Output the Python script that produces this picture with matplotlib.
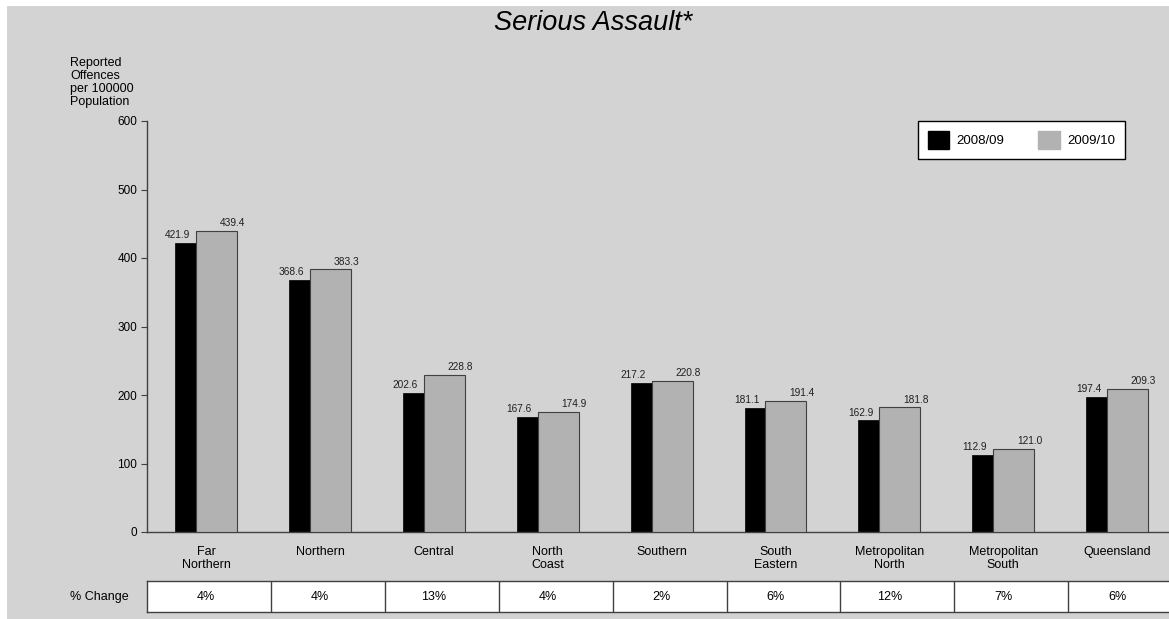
#!/usr/bin/env python3
import matplotlib
matplotlib.use("Agg")
import matplotlib.pyplot as plt
from matplotlib.patches import Rectangle, Patch

# Data
regions = ["Far\nNorthern", "Northern", "Central", "North\nCoast", "Southern",
           "South\nEastern", "Metropolitan\nNorth", "Metropolitan\nSouth", "Queensland"]
rate_2008 = [421.9, 368.6, 202.6, 167.6, 217.2, 181.1, 162.9, 112.9, 197.4]
rate_2009 = [439.4, 383.3, 228.8, 174.9, 220.8, 191.4, 181.8, 121.0, 209.3]
pct_change = ["4%", "4%", "13%", "4%", "2%", "6%", "12%", "7%", "6%"]
series_names = ["2008/09", "2009/10"]
y_ticks = [0, 100, 200, 300, 400, 500, 600]

BG = "#d3d3d3"
GREY = "#b2b2b2"
EDGE = "#404040"
W, H = 1169, 619

plt.rcParams['font.family'] = ['Liberation Sans', 'DejaVu Sans']

fig = plt.figure(figsize=(W / 100, H / 100), dpi=100, facecolor="white")
fig.add_artist(Rectangle((7 / W, 0), 1 - 7 / W, 613 / H, transform=fig.transFigure,
                         facecolor=BG, edgecolor="none", zorder=-10))

# main axes (right edge runs slightly past the figure, like the original)
left, right = 147, 1174
ax = fig.add_axes([left / W, (H - 532) / H, (right - left) / W, 411 / H])
ax.patch.set_visible(False)

x = list(range(len(regions)))
bw = 0.36
off = 0.092
x_a = [i - off for i in x]
x_b = [i + off for i in x]
ax.bar(x_a, rate_2008, width=bw, color="black", edgecolor="black", linewidth=0.5, zorder=2)
ax.bar(x_b, rate_2009, width=bw, color=GREY, edgecolor=EDGE, linewidth=0.8, zorder=3)

for i in x:
    ax.annotate(f"{rate_2008[i]:.1f}", (i - 0.25, rate_2008[i]), xytext=(0, 2),
                textcoords="offset points", ha="center", va="bottom", fontsize=7.3,
                color="#202020")
    ax.annotate(f"{rate_2009[i]:.1f}", (i + 0.23, rate_2009[i]), xytext=(0, 2),
                textcoords="offset points", ha="center", va="bottom", fontsize=7.3,
                color="#202020")

ax.set_xlim(-0.52, 8.5)
ax.set_ylim(0, 600)
ax.set_yticks(y_ticks)
ax.set_xticks(x)
ax.set_xticklabels(regions, fontsize=9, linespacing=1.15)
ax.tick_params(axis="x", length=0, pad=10)
ax.tick_params(axis="y", length=4, width=0.8, color=EDGE, labelsize=8.5, pad=3)
for s in ["top", "right"]:
    ax.spines[s].set_visible(False)
for s in ["left", "bottom"]:
    ax.spines[s].set_color(EDGE)
    ax.spines[s].set_linewidth(1.0)

fig.text(593 / W, 1 - 23 / H, "Serious Assault*", ha="center", va="center",
         fontsize=19.5, style="italic")
fig.text(70 / W, 1 - 57 / H, "Reported\nOffences\nper 100000\nPopulation",
         ha="left", va="top", fontsize=9, linespacing=1.1)

handles = [Patch(facecolor="black", edgecolor="black"),
           Patch(facecolor=GREY, edgecolor=GREY)]
leg = ax.legend(handles, series_names, loc="upper left",
                bbox_to_anchor=(918 / W, 1 - 121 / H), bbox_transform=fig.transFigure,
                ncol=2, fontsize=9.5, frameon=True, fancybox=False, framealpha=1,
                edgecolor="black", handlelength=1.6, handleheight=1.7,
                columnspacing=2.6, handletextpad=0.55, borderpad=0.75, borderaxespad=0)
leg.get_frame().set_linewidth(1.0)

# % change row underneath
tax = fig.add_axes([left / W, (H - 612) / H, (right - left) / W, 31 / H])
tax.set_facecolor("white")
tax.set_xlim(ax.get_xlim())
tax.set_ylim(0, 1)
tax.set_xticks([])
tax.set_yticks([])
tax.spines["right"].set_visible(False)
for s in ["left", "top", "bottom"]:
    tax.spines[s].set_color(EDGE)
    tax.spines[s].set_linewidth(1.0)
for i in x[:-1]:
    tax.axvline(i + 0.57, color=EDGE, linewidth=1.0)
for i in x:
    tax.text(i, 0.5, pct_change[i], ha="center", va="center", fontsize=9)
fig.text(129 / W, 1 - 597 / H, "% Change", ha="right", va="center", fontsize=9)

fig.savefig("out.png", dpi=100, facecolor="white")
